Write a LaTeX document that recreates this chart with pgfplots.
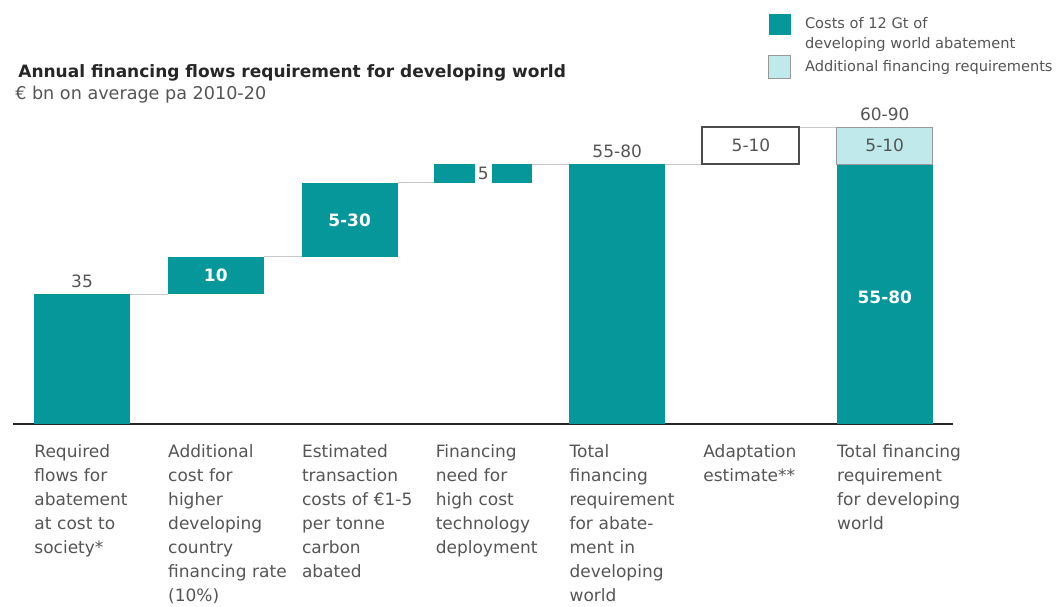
\documentclass[border=0pt]{standalone}
\usepackage{pgfplots}
\pgfplotsset{compat=1.18}
\usepackage{fontspec}
\setmainfont{DejaVu Sans}
\definecolor{tealc}{HTML}{05979A}
\definecolor{lightc}{HTML}{BFE9EA}
\definecolor{txt}{HTML}{555555}
\definecolor{conn}{HTML}{C8C8C8}
\begin{document}
\begin{tikzpicture}
\path[use as bounding box] (-6.5pt,-91pt) rectangle (521.5pt,212pt);
\begin{axis}[
  at={(0,0)}, anchor=south west,
  scale only axis, width=470pt, height=148.5pt,
  xmin=-0.516, xmax=6.51, ymin=0, ymax=80,
  axis y line=none, axis x line=bottom,
  x axis line style={-, line width=1.3pt, color=black!85},
  xtick={0,1,2,3,4,5,6},
  xticklabels={
    {Required\\flows for\\abatement\\at cost to\\society*},
    {Additional\\cost for\\higher\\developing\\country\\financing rate\\(10\%)},
    {Estimated\\transaction\\costs of €1-5\\per tonne\\carbon\\abated},
    {Financing\\need for\\high cost\\technology\\deployment},
    {Total\\financing\\requirement\\for abate-\\ment in\\developing\\world},
    {Adaptation\\estimate**},
    {Total financing\\requirement\\for developing\\world}},
  major tick length=0pt,
  xticklabel style={anchor=north west, xshift=-24pt, yshift=-10pt, inner sep=0pt,
    text width=70pt, align=left, text=txt, font=\fontsize{8.5}{12}\selectfont},
  clip=false,
  legend style={at={(0.803,1.384)}, anchor=north west, draw=none, fill=none,
    inner sep=0pt, font=\fontsize{7.3}{10}\selectfont, text=txt,
    cells={anchor=west, align=left}, row sep=0pt,
    /tikz/every odd column/.append style={column sep=5pt}},
]
% connectors
\addplot[conn, line width=0.5pt, forget plot] coordinates {(0.359,35) (0.641,35)};
\addplot[conn, line width=0.5pt, forget plot] coordinates {(1.359,45) (1.641,45)};
\addplot[conn, line width=0.5pt, forget plot] coordinates {(2.359,65) (2.631,65)};
\addplot[conn, line width=0.5pt, forget plot] coordinates {(3.363,70) (3.641,70)};
\addplot[conn, line width=0.5pt, forget plot] coordinates {(4.359,70) (4.634,70)};
\addplot[conn, line width=0.5pt, forget plot] coordinates {(5.359,80) (5.641,80)};
% bars
\addplot[fill=tealc, draw=none, forget plot] coordinates {(-0.359,0) (0.359,0) (0.359,35) (-0.359,35)} -- cycle;
\addplot[fill=tealc, draw=none, forget plot] coordinates {(0.641,35) (1.359,35) (1.359,45) (0.641,45)} -- cycle;
\addplot[fill=tealc, draw=none, forget plot] coordinates {(1.641,45) (2.359,45) (2.359,65) (1.641,65)} -- cycle;
\addplot[fill=tealc, draw=none, forget plot] coordinates {(2.631,65) (2.937,65) (2.937,70) (2.631,70)} -- cycle;
\addplot[fill=tealc, draw=none, forget plot] coordinates {(3.064,65) (3.363,65) (3.363,70) (3.064,70)} -- cycle;
\addplot[fill=tealc, draw=none, forget plot] coordinates {(3.641,0) (4.359,0) (4.359,70) (3.641,70)} -- cycle;
\addplot[fill=white, draw=black!70, line width=0.7pt, forget plot] coordinates {(4.634,70) (5.359,70) (5.359,80) (4.634,80)} -- cycle;
\addplot[fill=tealc, draw=none,
  legend image code/.code={\fill[tealc] (0pt,-0.25pt) rectangle (11pt,10.25pt);}]
  coordinates {(5.641,0) (6.359,0) (6.359,70) (5.641,70)} -- cycle;
\addlegendentry{Costs of 12 Gt of\\developing world abatement}
\addplot[fill=lightc, draw=black!40, line width=0.4pt,
  legend image code/.code={\filldraw[fill=lightc, draw=black!40, line width=0.4pt] (0pt,-5.75pt) rectangle (11pt,5.75pt);}]
  coordinates {(5.641,70) (6.359,70) (6.359,80) (5.641,80)} -- cycle;
\addlegendentry{Additional financing requirements}
% value labels
\node[anchor=base, text=txt, font=\fontsize{8.5}{10}\selectfont, yshift=3.4pt] at (axis cs:0,35) {35};
\node[text=white, font=\bfseries\fontsize{8.5}{10}\selectfont] at (axis cs:1,40) {10};
\node[text=white, font=\bfseries\fontsize{8.5}{10}\selectfont] at (axis cs:2,55) {5-30};
\node[text=txt, font=\fontsize{8.5}{10}\selectfont] at (axis cs:3,67.5) {5};
\node[anchor=base, text=txt, font=\fontsize{8.5}{10}\selectfont, yshift=3.4pt] at (axis cs:4,70) {55-80};
\node[text=txt, font=\fontsize{8.5}{10}\selectfont] at (axis cs:5,75) {5-10};
\node[anchor=base, text=txt, font=\fontsize{8.5}{10}\selectfont, yshift=3.4pt] at (axis cs:6,80) {60-90};
\node[text=txt, font=\fontsize{8.5}{10}\selectfont] at (axis cs:6,75) {5-10};
\node[text=white, font=\bfseries\fontsize{8.5}{10}\selectfont] at (axis cs:6,34) {55-80};
% titles
\node[anchor=west, inner sep=0pt, text=black!85, font=\bfseries\fontsize{8.5}{10}\selectfont] at (axis description cs:0.0053,1.182) {Annual financing flows requirement for developing world};
\node[anchor=west, inner sep=0pt, text=txt, font=\fontsize{8.8}{10}\selectfont] at (axis description cs:0.002,1.108) {€ bn on average pa 2010-20};
\end{axis}
\end{tikzpicture}
\end{document}
